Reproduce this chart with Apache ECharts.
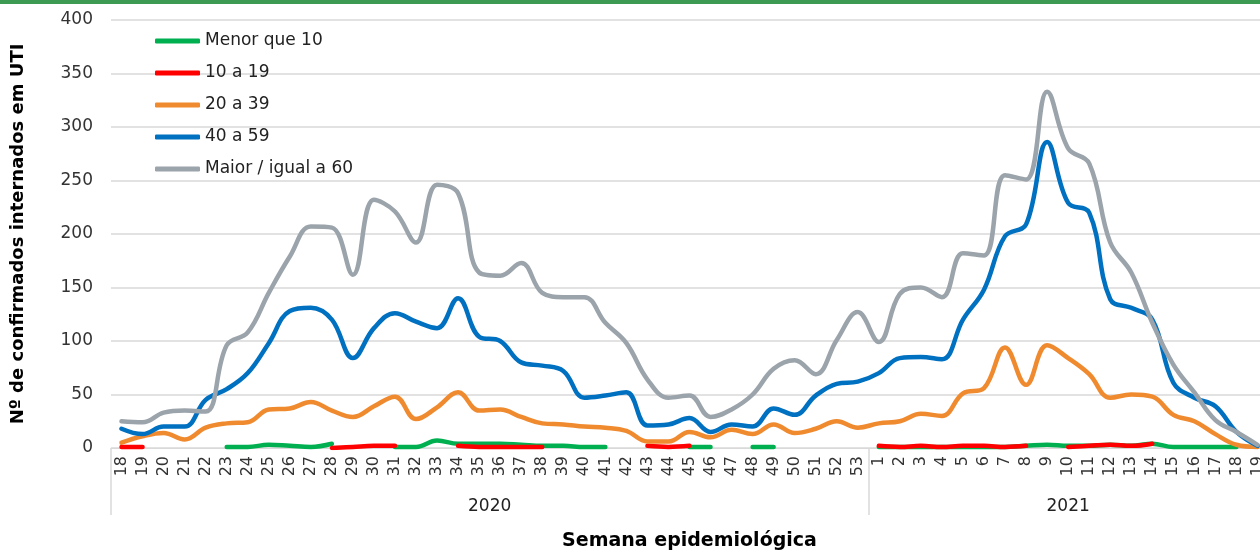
<!DOCTYPE html>
<html>
<head>
<meta charset="utf-8">
<script src="https://cdn.jsdelivr.net/npm/echarts@6/dist/echarts.min.js"></script>
<style>
html,body{margin:0;padding:0;background:#fff;}
#chart{width:1260px;height:552px;}
</style>
</head>
<body>
<div id="chart"></div>
<script>
// Week categories: 2020 weeks 18-53, 2021 weeks 1-19
const weeks = ['18','19','20','21','22','23','24','25','26','27','28','29','30','31','32','33','34','35','36','37','38','39','40','41','42','43','44','45','46','47','48','49','50','51','52','53',
  '1','2','3','4','5','6','7','8','9','10','11','12','13','14','15','16','17','18','19'];
const years = ['2020','2021'];
const yearStartIndex = [0, 36];
const yTicks = [0, 50, 100, 150, 200, 250, 300, 350, 400];

const seriesNames = ['Menor que 10','10 a 19','20 a 39','40 a 59','Maior / igual a 60'];

const menor10 = [null,null,null,null,null,1,1,3,2,1,4,null,null,1,1,7,4,4,4,3,2,2,1,1,null,null,null,1,1,null,1,1,null,null,null,null,
  1,1,1,1,1,1,1,2,3,2,2,3,2,4,1,1,1,1,null];
const de10a19 = [1,1,null,null,null,null,null,null,null,null,0,1,2,2,null,null,2,1,1,1,1,null,null,null,null,2,1,2,null,null,null,null,null,null,null,null,
  2,1,2,1,2,2,1,2,null,1,2,3,2,4,null,null,null,null,null];
const de20a39 = [5,11,14,8,19,23,24,36,37,43,35,29,39,48,27,38,52,35,36,29,23,22,20,19,16,6,6,15,10,17,13,22,14,18,25,19,
  23,25,32,30,51,56,94,59,96,84,69,47,50,48,31,25,13,3,1];
const de40a59 = [18,13,20,20,45,55,70,98,128,131,120,84,112,126,118,112,140,104,100,80,77,72,47,49,52,21,22,28,15,22,20,37,31,49,60,62,
  70,84,85,83,120,148,198,209,286,229,220,139,131,120,61,47,39,15,2];
const maior60 = [25,24,33,35,34,96,108,145,179,207,206,162,232,221,192,246,238,164,161,173,145,141,141,117,98,64,47,49,29,36,50,74,82,69,101,127,
  99,144,150,141,182,180,255,251,333,280,266,192,164,117,78,52,26,15,3];

const colors = ['#00b050','#ff0000','#f08a2f','#0070c0','#9ba3ab'];
const allData = [menor10, de10a19, de20a39, de40a59, maior60];

// year axis labels: 2020 centred over its block (between idx 17 and 18), 2021 at idx 45
const yearAxisData = weeks.map(() => '');
yearAxisData[18] = '2020';
yearAxisData[45] = '2021';

const FONT = '"DejaVu Sans", "Noto Sans", sans-serif';

const chart = echarts.init(document.getElementById('chart'), null, {renderer:'canvas'});
chart.setOption({
  animation: false,
  backgroundColor: '#fff',
  textStyle: {fontFamily: FONT},
  graphic: [{
    type: 'rect', left: 0, top: 0, shape: {width: 1260, height: 4},
    style: {fill: '#3d9a52'}, silent: true
  }],
  grid: {left: 111, right: -8, top: 20, bottom: 104, containLabel: false, outerBoundsMode: 'none'},
  legend: {
    orient: 'vertical', left: 150, top: 26,
    icon: 'roundRect', itemWidth: 45, itemHeight: 5, itemGap: 12, itemTextGap: 2,
    textStyle: {fontSize: 17, color: '#222', fontFamily: FONT, lineHeight: 20},
    data: seriesNames
  },
  xAxis: [{
    type: 'category', data: weeks, boundaryGap: true, position: 'bottom',
    axisLine: {show: true, lineStyle: {color: '#d9d9d9', width: 1}},
    axisTick: {show: false},
    axisLabel: {rotate: 90, interval: 0, fontSize: 16, color: '#333', margin: 8, fontFamily: FONT}
  }, {
    type: 'category', data: yearAxisData, boundaryGap: true, position: 'bottom',
    axisLine: {show: false},
    axisTick: {show: true, length: 67, lineStyle: {color: '#d9d9d9', width: 1.5},
      interval: function (idx) { return yearStartIndex.indexOf(idx) >= 0; }},
    axisLabel: {interval: 0, margin: 50, fontSize: 17, color: '#222', fontFamily: FONT,
      formatter: function (v) { return v === years[0] ? '{a|' + v + '}' : v; },
      rich: {a: {padding: [0, 21, 0, 0], fontSize: 17, color: '#222', fontFamily: FONT}}
    },
    name: 'Semana epidemiológica', nameLocation: 'middle', nameGap: 84,
    nameTextStyle: {fontSize: 19, fontWeight: 'bold', color: '#000', fontFamily: FONT}
  }],
  yAxis: {
    type: 'value', min: 0, max: 400, interval: 50,
    axisLine: {show: false}, axisTick: {show: false},
    splitLine: {lineStyle: {color: '#d9d9d9', width: 1.5}},
    axisLabel: {fontSize: 17, color: '#333', margin: 18, fontFamily: FONT,
      formatter: function (v) { return yTicks.indexOf(v) >= 0 ? String(v) : ''; }},
    name: 'Nº de confirmados internados em UTI', nameLocation: 'middle', nameGap: 84,
    nameTextStyle: {fontSize: 18, fontWeight: 'bold', color: '#000', fontFamily: FONT}
  },
  series: seriesNames.map((n, i) => ({
    name: n, type: 'line', data: allData[i], xAxisIndex: 0,
    smooth: 0.4, showSymbol: false, symbol: 'none', connectNulls: false,
    lineStyle: {color: colors[i], width: 4.5, cap: 'round'},
    itemStyle: {color: colors[i]},
    emphasis: {disabled: true}
  }))
});
</script>
</body>
</html>
